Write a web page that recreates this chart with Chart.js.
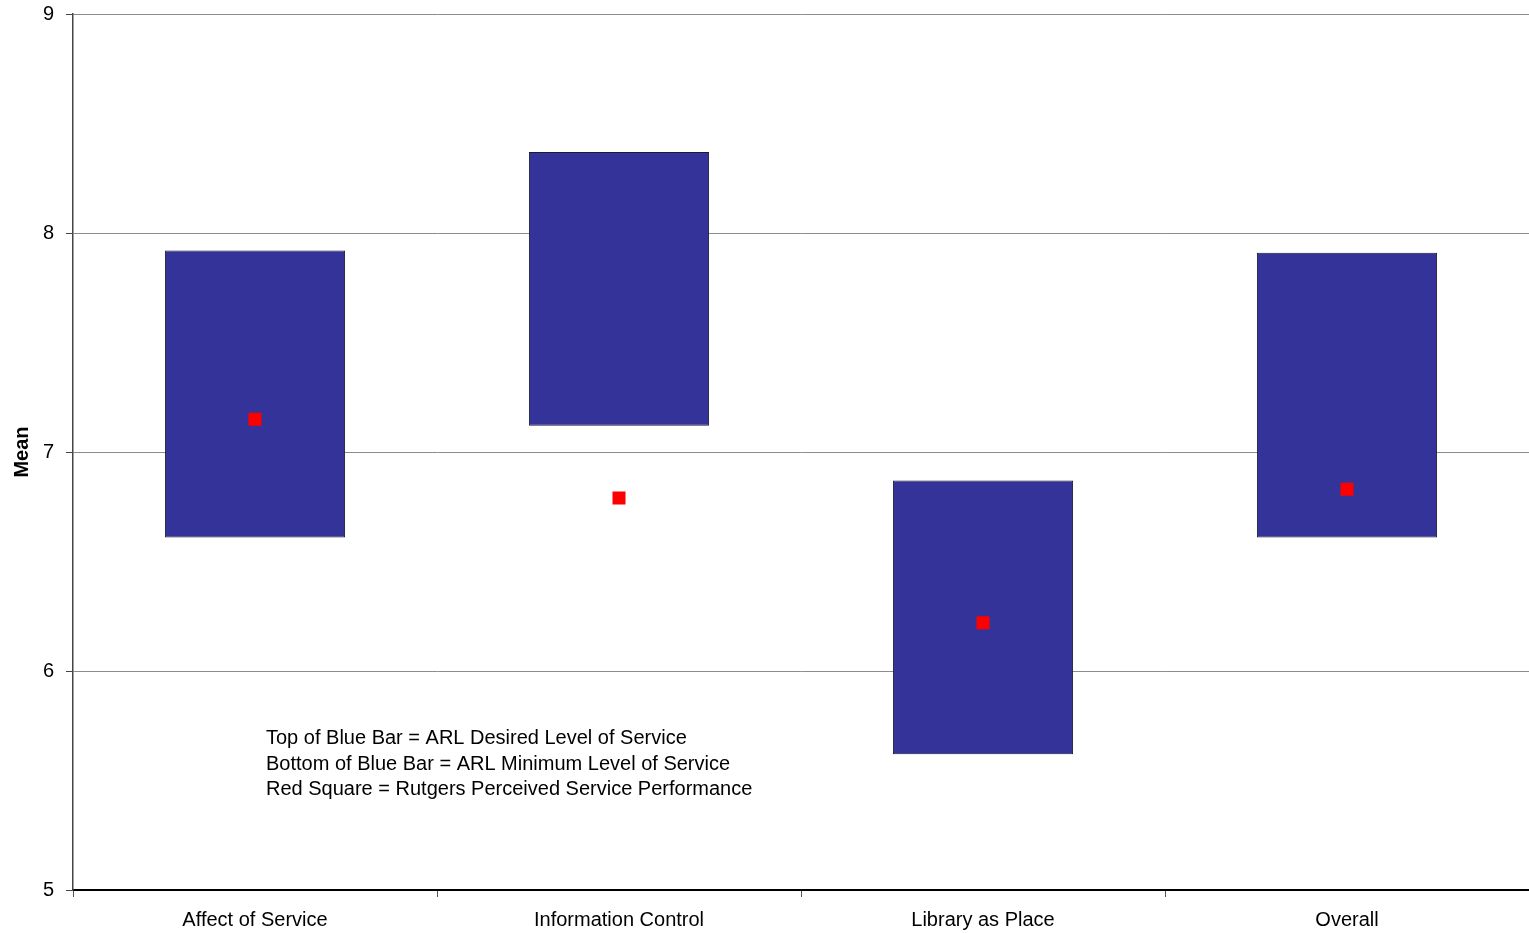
<!DOCTYPE html>
<html>
<head>
<meta charset="utf-8">
<script src="https://cdn.jsdelivr.net/npm/chart.js@4.4.1/dist/chart.umd.min.js"></script>
<style>
  html, body { margin: 0; padding: 0; background: #fff; overflow: hidden; }
  #wrap { width: 1529px; height: 933px; position: relative; }
  canvas { display: block; }
</style>
</head>
<body>
<div id="wrap"><canvas id="gapChart"></canvas></div>
<script>
// categories and scores (mean, 1-9 scale)
var categories = ["Affect of Service", "Information Control", "Library as Place", "Overall"];
var minimumLevel = [6.61, 7.12, 5.62, 6.61];   // bottom of blue bar
var desiredLevel = [7.92, 8.37, 6.87, 7.91];   // top of blue bar
var perceived = [7.15, 6.79, 6.22, 6.83];      // red square
var yTicks = [5, 6, 7, 8, 9];
var noteLines = [
    "Top of Blue Bar = ARL Desired Level of Service",
    "Bottom of Blue Bar = ARL Minimum Level of Service",
    "Red Square = Rutgers Perceived Service Performance"
];

var fontFamily = "'Liberation Sans', Arial, sans-serif";

// explanatory note inside the plot
var notePlugin = {
    id: 'notes',
    afterDatasetsDraw: function (chart) {
        var ctx = chart.ctx;
        var y = chart.scales.y;
        ctx.save();
        ctx.font = "20px " + fontFamily;
        ctx.fillStyle = "#000";
        ctx.textBaseline = "middle";
        var top = y.getPixelForValue(5.69);
        noteLines.forEach(function (line, i) {
            ctx.fillText(line, chart.chartArea.left + 193, top + i * 25.5);
        });
        ctx.restore();
    }
};

var chartConfig = {
    type: 'bar',
    data: {
        labels: categories,
        datasets: [{
            label: "ARL range",
            data: categories.map(function (c, i) { return [minimumLevel[i], desiredLevel[i]]; }),
            backgroundColor: "#333399",
            borderColor: "#1a1a33",
            borderWidth: 1,
            borderSkipped: false,
            categoryPercentage: 1,
            barPercentage: 0.495,
            order: 2
        }, {
            type: 'line',
            label: "Rutgers perceived",
            data: perceived,
            showLine: false,
            pointStyle: 'rect',
            pointRadius: 9.2,
            pointHoverRadius: 9.2,
            pointBorderWidth: 0,
            backgroundColor: "#ff0000",
            borderColor: "#ff0000",
            order: 1
        }]
    },
    options: {
        responsive: true,
        maintainAspectRatio: false,
        animation: false,
        layout: { autoPadding: false, padding: { top: 14, right: 0, left: 0, bottom: 0 } },
        plugins: {
            legend: { display: false },
            tooltip: { enabled: false }
        },
        scales: {
            x: {
                offset: true,
                grid: {
                    offset: true,
                    drawOnChartArea: false,
                    drawTicks: true,
                    tickLength: 7,
                    color: "#555"
                },
                border: { color: "#000", width: 2 },
                ticks: {
                    color: "#000",
                    padding: 11,
                    font: { family: fontFamily, size: 20 }
                },
                afterFit: function (scale) {
                    scale.height = 43;
                    scale.paddingLeft = 0;
                    scale.paddingRight = 0;
                }
            },
            y: {
                min: 5,
                max: 9,
                afterBuildTicks: function (scale) {
                    scale.ticks = yTicks.map(function (v) { return { value: v }; });
                },
                grid: {
                    color: "#8c8c8c",
                    lineWidth: 1,
                    tickLength: 7,
                    tickColor: "#444"
                },
                border: { color: "#444", width: 1.5 },
                ticks: {
                    color: "#000",
                    padding: 12,
                    font: { family: fontFamily, size: 20 }
                },
                title: {
                    display: true,
                    text: "Mean",
                    color: "#000",
                    padding: { top: 10, bottom: 0 },
                    font: { family: fontFamily, size: 20, weight: 'bold' }
                },
                afterFit: function (scale) {
                    scale.width = 73;
                    scale.paddingTop = 0;
                    scale.paddingBottom = 0;
                }
            }
        }
    },
    plugins: [notePlugin]
};

var gapChart = new Chart(document.getElementById('gapChart').getContext('2d'), chartConfig);
</script>
</body>
</html>
